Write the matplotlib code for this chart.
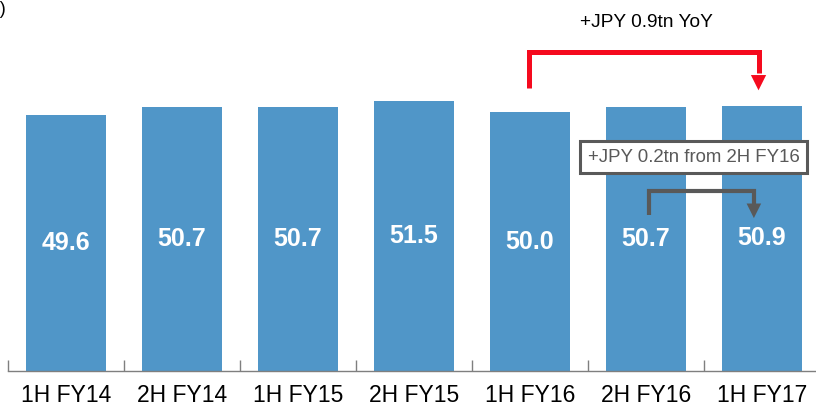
import matplotlib
matplotlib.use("Agg")
import matplotlib.pyplot as plt
from matplotlib.patches import FancyArrowPatch

plt.rcParams['font.family'] = ['Liberation Sans', 'DejaVu Sans']

periods = ["1H FY14", "2H FY14", "1H FY15", "2H FY15", "1H FY16", "2H FY16", "1H FY17"]
values = [49.6, 50.7, 50.7, 51.5, 50.0, 50.7, 50.9]
yoy_note = "+JPY 0.9tn YoY"
hoh_note = "+JPY 0.2tn from 2H FY16"
unit_label = "(JPY tn)"

bar_color = "#5096C8"
red = "#F50A1E"
gray = "#595959"

W, H = 816, 409
fig = plt.figure(figsize=(W / 100, H / 100), dpi=100)
ax = fig.add_axes([8 / W, 38 / H, 812 / W, 371 / H])

y_floor = 15.5
x = list(range(len(periods)))
ax.bar(x, values, width=0.69, color=bar_color, zorder=2)
ax.set_xlim(-0.5, len(periods) - 0.5)
ax.set_ylim(y_floor, 65)

for xi, v in zip(x, values):
    ax.text(xi, (y_floor + v) / 2, f"{v:.1f}", ha="center", va="center",
            color="white", fontsize=18, fontweight="bold", zorder=3)

# axes styling: only a baseline with boundary ticks
for s in ["left", "right", "top"]:
    ax.spines[s].set_visible(False)
ax.spines["bottom"].set_color("#7F7F7F")
ax.spines["bottom"].set_linewidth(1.0)
ax.set_yticks([])
ax.set_xticks(x)
ax.set_xticklabels(periods, fontsize=16.5, color="black")
ax.tick_params(axis="x", which="major", length=0, pad=9)
ax.set_xticks([i - 0.5 for i in range(len(periods) + 1)], minor=True)
ax.tick_params(axis="x", which="minor", direction="in", length=8,
               color="#7F7F7F", width=1.0)

head = "-|>,head_length=0.5,head_width=0.25"

# YoY bracket arrow
ax.plot([3.99, 3.99, 5.97, 5.97], [53.2, 58.0, 58.0, 55.2], color=red,
        lw=3.6, solid_joinstyle="miter", solid_capstyle="butt", zorder=4)
ax.add_patch(FancyArrowPatch((5.97, 55.4), (5.97, 52.95), arrowstyle=head,
                             mutation_scale=22, color=red, lw=0,
                             shrinkA=0, shrinkB=0, zorder=4))
ax.text(5.0, 62.0, yoy_note, ha="center", va="center", fontsize=13.8,
        color="black")

# half-on-half bracket arrow
ax.plot([5.03, 5.03, 5.93, 5.93], [36.3, 39.5, 39.5, 37.8], color=gray,
        lw=3.0, solid_joinstyle="miter", solid_capstyle="butt", zorder=4)
ax.add_patch(FancyArrowPatch((5.93, 38.1), (5.93, 35.9), arrowstyle=head,
                             mutation_scale=21, color=gray, lw=0,
                             shrinkA=0, shrinkB=0, zorder=4))
ax.text(5.41, 44.0, hoh_note, ha="center", va="center", fontsize=13.4,
        color=gray, zorder=5,
        bbox=dict(boxstyle="square,pad=0.4", facecolor="white",
                  edgecolor=gray, linewidth=2.2))

# unit label, mostly off the left edge
fig.text(6 / W, 1 - 9 / H, unit_label, ha="right", va="center",
         fontsize=13, color="black")

fig.savefig("out.png", dpi=100)
